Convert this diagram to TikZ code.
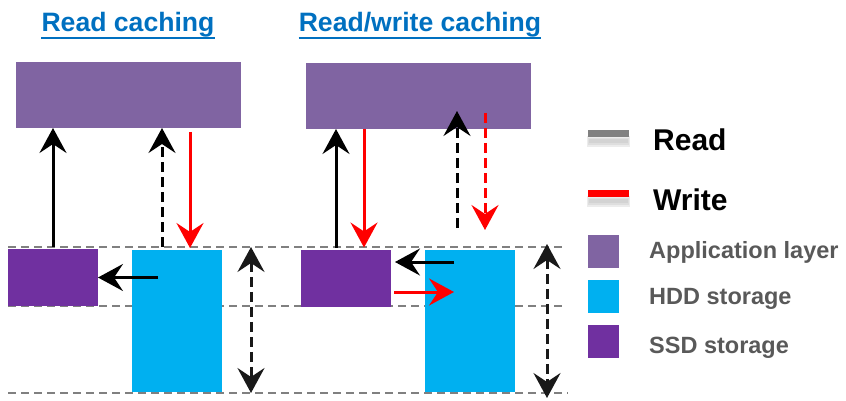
\documentclass[tikz,border=0pt]{standalone}
\usepackage{fontspec}
\setmainfont{Liberation Sans}
\usetikzlibrary{arrows.meta}
\definecolor{appColor}{HTML}{8064A2}
\definecolor{hddColor}{HTML}{00B0F0}
\definecolor{ssdColor}{HTML}{7030A0}
\definecolor{titleColor}{HTML}{0070C0}
\definecolor{labelColor}{HTML}{595959}
\definecolor{readColor}{HTML}{808080}
\tikzset{
  box/.style={draw=none, inner sep=0pt, outer sep=0pt},
  appBox/.style={box, fill=appColor, minimum width=225pt, minimum height=66pt},
  ssdBox/.style={box, fill=ssdColor, minimum width=90pt, minimum height=57pt},
  hddBox/.style={box, fill=hddColor, minimum width=90pt, minimum height=142pt},
  keyBox/.style={box, minimum width=31pt, minimum height=33pt},
  tip/.tip={Stealth[length=25pt,width=27pt,inset=9pt]},
  rdArrow/.style={line width=3pt, black, -tip},
  wrArrow/.style={line width=3pt, red, -tip},
  dashArrow/.style={dash pattern=on 10pt off 5pt},
  spanArrow/.style={line width=3pt, black!90, tip-tip, dash pattern=on 10pt off 5pt},
  guide/.style={readColor, line width=1.6pt, dash pattern=on 8pt off 5pt},
  keyShadow/.style={fill=readColor!60, opacity=.25},
  titleText/.style={inner sep=0pt, anchor=base, text=titleColor, font=\fontsize{26.6}{30}\selectfont\bfseries},
  keyText/.style={inner sep=0pt, anchor=base west, text=labelColor, font=\fontsize{23.5}{26}\selectfont\bfseries},
  bigText/.style={inner sep=0pt, anchor=base west, font=\fontsize{30}{32}\selectfont\bfseries}
}

\begin{document}
\begin{tikzpicture}[x=1pt, y=-1pt]
    \useasboundingbox (0,0) rectangle (846,401);

    % guide lines behind the boxes
    \foreach \y/\xe in {247/562, 306/562, 393/568}
        \draw[guide] (8,\y) -- (\xe,\y);

    % titles
    \node[titleText] (t1) at (128,32) {Read caching};
    \node[titleText] (t2) at (420,32) {Read/write caching};
    \draw[titleColor, line width=2pt] ([yshift=-6pt]t1.base west) -- ([yshift=-6pt]t1.base east);
    \draw[titleColor, line width=2pt] ([yshift=-6pt]t2.base west) -- ([yshift=-6pt]t2.base east);

    % read caching
    \node[appBox] (app1) at (128.5,95) {};
    \node[ssdBox] (ssd1) at (53,277.5) {};
    \node[hddBox] (hdd1) at (177,321) {};

    \coordinate (r1) at ([xshift=-15pt]hdd1.north);
    \coordinate (w1) at ([xshift=13pt]hdd1.north);
    \coordinate (h1) at (158,277.5);
    \draw[rdArrow] ([yshift=2pt]ssd1.north) -- (ssd1.north |- app1.south);
    \draw[rdArrow, dashArrow] ([yshift=3pt]r1) -- (r1 |- app1.south);
    \draw[wrArrow] ([yshift=-4pt]w1 |- app1.south) -- ([yshift=2pt]w1);
    \draw[rdArrow] (h1) -- (ssd1.east);
    \coordinate (span1a) at (251,247);
    \coordinate (span1b) at (251,393);
    \draw[spanArrow] (span1a) -- (span1b);

    % read/write caching
    \node[appBox] (app2) at (418.5,96) {};
    \node[ssdBox] (ssd2) at (346,278) {};
    \node[hddBox] (hdd2) at (470,321) {};

    \coordinate (r2) at ([xshift=-10pt]ssd2.north);
    \coordinate (w2) at ([xshift=18pt]ssd2.north);
    \draw[rdArrow] ([yshift=2pt]r2) -- (r2 |- app2.south);
    \draw[wrArrow] (w2 |- app2.south) -- ([yshift=2pt]w2);
    \coordinate (r3) at (457,228);
    \coordinate (r3e) at (457,111);
    \draw[rdArrow, dashArrow] (r3) -- (r3e);
    \coordinate (w3) at (485,113);
    \coordinate (w3e) at (485,230);
    \draw[wrArrow, dashArrow] (w3) -- (w3e);
    \coordinate (h2) at (454,262);
    \draw[rdArrow] (h2) -- ([xshift=4pt]h2 -| ssd2.east);
    \coordinate (s2) at (394,292);
    \draw[wrArrow] (s2) -- (s2 -| h2);
    \coordinate (span2a) at (547,244);
    \coordinate (span2b) at (547,398);
    \draw[spanArrow] (span2a) -- (span2b);

    % legend
    \foreach \t in {130,190}{
        \fill[keyShadow] (587,\t+6) rectangle (630,\t+17);
        \fill[keyShadow] (588,\t+8) rectangle (629,\t+15);
        \fill[keyShadow] (589,\t+9) rectangle (628,\t+13);
    }
    \fill[readColor] (588,130) rectangle (629,137);
    \node[bigText] (kRead) at (653,150) {Read};
    \fill[red] (588,190) rectangle (629,197);
    \node[bigText] (kWrite) at (653,210) {Write};

    \node[keyBox, fill=appColor] (kApp) at (603.5,251.5) {};
    \node[keyBox, fill=hddColor] (kHdd) at (603.5,296.5) {};
    \node[keyBox, fill=ssdColor] (kSsd) at (603.5,341.5) {};
    \node[keyText] (lApp) at (649,258) {Application layer};
    \node[keyText] (lHdd) at (649,304) {HDD storage};
    \node[keyText] (lSsd) at (649,353) {SSD storage};
\end{tikzpicture}
\end{document}
